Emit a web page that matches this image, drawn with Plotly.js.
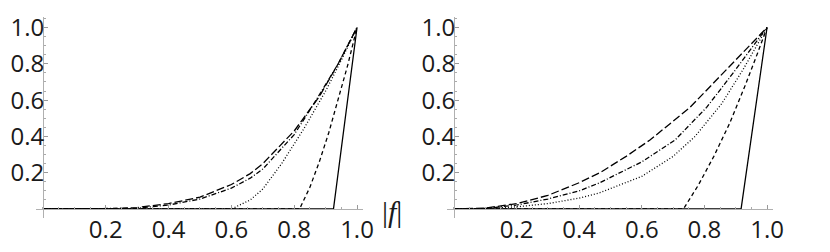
<!DOCTYPE html>
<html>
<head>
<meta charset="utf-8">
<script src="https://cdn.plot.ly/plotly-3.0.1.min.js"></script>
<style>html,body{margin:0;padding:0;background:#fff;}#chart{width:830px;height:252px;}</style>
</head>
<body>
<div id="chart"></div>
<script>
// ---- tick labels ----
const tickValues = [0.2, 0.4, 0.6, 0.8, 1.0];
const tickLabels = ["0.2", "0.4", "0.6", "0.8", "1.0"];

// ---- left panel series (|f|, value) ----
const leftLongDashX = [0, 0.2, 0.3, 0.4, 0.5, 0.6, 0.66, 0.7, 0.8, 0.88, 0.94, 1.0];
const leftLongDashY = [0, 0, 0.008, 0.03, 0.065, 0.135, 0.195, 0.25, 0.43, 0.62, 0.8, 1.0];
const leftDashDotX = [0, 0.25, 0.3, 0.4, 0.5, 0.6, 0.66, 0.7, 0.8, 0.87, 0.94, 1.0];
const leftDashDotY = [0, 0, 0.004, 0.022, 0.055, 0.115, 0.17, 0.22, 0.41, 0.6, 0.8, 1.0];
const leftDottedX = [0, 0.6, 0.66, 0.7, 0.76, 0.83, 0.9, 0.95, 1.0];
const leftDottedY = [0, 0, 0.05, 0.11, 0.25, 0.44, 0.65, 0.82, 1.0];
const leftDashedX = [0, 0.817, 0.85, 0.88, 0.91, 0.94, 0.97, 1.0];
const leftDashedY = [0, 0, 0.12, 0.26, 0.42, 0.6, 0.79, 1.0];
const leftSolidX = [0, 0.925, 1.0];
const leftSolidY = [0, 0, 1.0];

// ---- right panel series ----
const rightLongDashX = [0, 0.1, 0.2, 0.3, 0.4, 0.466, 0.55, 0.626, 0.754, 0.86, 0.967, 1.0];
const rightLongDashY = [0, 0.005, 0.03, 0.075, 0.145, 0.2, 0.29, 0.38, 0.56, 0.75, 0.94, 1.0];
const rightDashDotX = [0, 0.1, 0.2, 0.3, 0.4, 0.466, 0.6, 0.706, 0.807, 0.892, 0.978, 1.0];
const rightDashDotY = [0, 0.003, 0.022, 0.055, 0.1, 0.145, 0.26, 0.38, 0.56, 0.75, 0.95, 1.0];
const rightDottedX = [0, 0.1, 0.2, 0.3, 0.4, 0.466, 0.6, 0.7, 0.77, 0.855, 0.924, 1.0];
const rightDottedY = [0, 0.002, 0.012, 0.03, 0.06, 0.09, 0.18, 0.29, 0.4, 0.58, 0.77, 1.0];
const rightDashedX = [0, 0.733, 0.78, 0.83, 0.88, 0.93, 0.97, 1.0];
const rightDashedY = [0, 0, 0.13, 0.29, 0.47, 0.68, 0.86, 1.0];
const rightSolidX = [0, 0.917, 1.0];
const rightSolidY = [0, 0, 1.0];

const styles = {
  solid: "solid",
  dashed: "4px,3px",
  dotted: "1px,2px",
  dashdot: "5px,2px,1px,2px",
  longdash: "8px,3px"
};

function tr(x, y, dash, xa, ya) {
  return {x: x, y: y, type: "scatter", mode: "lines", xaxis: xa, yaxis: ya,
          line: {color: "#000", width: 1.3, dash: dash}, hoverinfo: "skip", showlegend: false};
}

const data = [
  tr(leftLongDashX, leftLongDashY, styles.longdash, "x", "y"),
  tr(leftDashDotX, leftDashDotY, styles.dashdot, "x", "y"),
  tr(leftDottedX, leftDottedY, styles.dotted, "x", "y"),
  tr(leftDashedX, leftDashedY, styles.dashed, "x", "y"),
  tr(leftSolidX, leftSolidY, styles.solid, "x", "y"),
  tr(rightLongDashX, rightLongDashY, styles.longdash, "x2", "y2"),
  tr(rightDashDotX, rightDashDotY, styles.dashdot, "x2", "y2"),
  tr(rightDottedX, rightDottedY, styles.dotted, "x2", "y2"),
  tr(rightDashedX, rightDashedY, styles.dashed, "x2", "y2"),
  tr(rightSolidX, rightSolidY, styles.solid, "x2", "y2")
];

const W = 830, H = 252;
const tickFont = {family: "Open Sans, Noto Sans, sans-serif", size: 24, color: "#1a1a1a"};

function xAxis(d0, d1, pos) {
  return {domain: [d0 / W, d1 / W], range: [-0.022, 1.02], anchor: "free", position: pos,
    showline: true, linecolor: "#b0b0b0", linewidth: 1, zeroline: false, showgrid: false,
    ticks: "inside", ticklen: 4, tickcolor: "#999", tickwidth: 1,
    tickmode: "array", tickvals: tickValues, ticktext: tickLabels, tickfont: tickFont,
    ticklabelstandoff: -1,
    minor: {tickmode: "linear", tick0: 0, dtick: 0.05, ticks: "inside", ticklen: 2, tickcolor: "#aaa", showgrid: false},
    fixedrange: true};
}
function yAxis(pos) {
  return {domain: [(H - 218.1) / H, (H - 16.6) / H], range: [-0.05, 1.06], anchor: "free", position: pos,
    showline: true, linecolor: "#b0b0b0", linewidth: 1, zeroline: false, showgrid: false,
    ticks: "inside", ticklen: 4, tickcolor: "#999", tickwidth: 1,
    tickmode: "array", tickvals: tickValues, ticktext: tickLabels, tickfont: tickFont,
    ticklabelstandoff: -6,
    minor: {tickmode: "linear", tick0: 0, dtick: 0.05, ticks: "inside", ticklen: 2, tickcolor: "#aaa", showgrid: false},
    fixedrange: true};
}

const axisY0 = (H - 209) / H;
const layout = {
  width: W, height: H,
  margin: {l: 0, r: 0, t: 0, b: 0},
  paper_bgcolor: "#fff", plot_bgcolor: "#fff",
  xaxis: xAxis(36, 363.3, axisY0),
  yaxis: yAxis(43 / W),
  xaxis2: xAxis(447.1, 773.3, axisY0),
  yaxis2: yAxis(454 / W),
  annotations: [{
    text: "|<i>f</i>|", xref: "paper", yref: "paper", x: 392 / W, y: (H - 211) / H,
    xanchor: "center", yanchor: "middle", showarrow: false,
    font: {family: "Liberation Serif, serif", size: 30, color: "#1a1a1a"}
  }]
};

Plotly.newPlot("chart", data, layout, {displayModeBar: false, staticPlot: true});
</script>
</body>
</html>
